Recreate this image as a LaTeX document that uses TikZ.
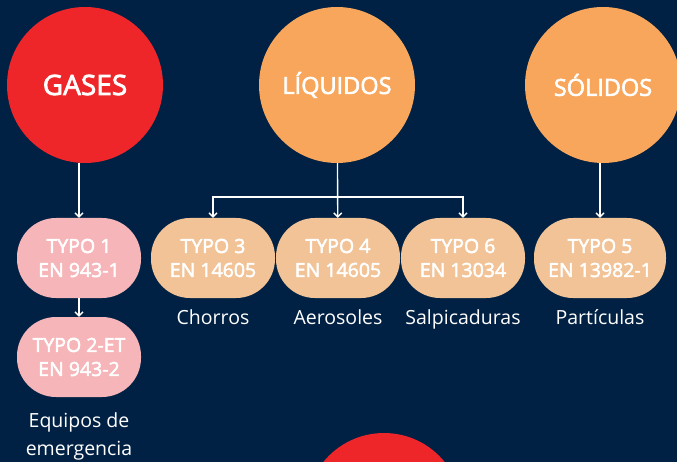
\documentclass[tikz,border=0pt]{standalone}
\usepackage{fontspec}
\setmainfont{Open Sans}
\newfontfamily\semib{Open Sans}[FakeBold=2.6]
\usetikzlibrary{positioning, arrows.meta}
\definecolor{navy}{HTML}{002144}
\definecolor{redc}{HTML}{EE2629}
\definecolor{orangec}{HTML}{F8A65B}
\definecolor{pinkc}{HTML}{F6B5B8}
\definecolor{peachc}{HTML}{F2C396}
\tikzset{%
  bigc/.style   = {circle, minimum size = 156pt, inner sep = 0pt,
    text = white},
  pill/.style   = {rectangle, rounded corners = 39pt, minimum width = 124pt,
    minimum height = 80pt, inner sep = 0pt, align = center, text = white,
    font = \fontsize{19.5}{24}\selectfont\semib},
  lbl/.style    = {text = white, align = center,
    font = \fontsize{19.5}{28}\selectfont},
  conn/.style   = {draw = white, line width = 1.4pt,
    -{Straight Barb[length = 4pt, width = 8pt]}}
}
\begin{document}
\begin{tikzpicture}[x = 1pt, y = -1pt]
\useasboundingbox (0,0) rectangle (677,462);
\fill[navy] (0,0) rectangle (677,462);
\clip (0,0) rectangle (677,462);
% top circles
\draw
	(85,85) node [bigc, fill = redc, font = \fontsize{28}{30}\selectfont\semib] (gases) {GASES}
	(337,85) node [bigc, fill = orangec, font = \fontsize{23.5}{26}\selectfont\semib] (liq) {LÍQUIDOS}
	(603,85) node [bigc, fill = orangec, font = \fontsize{23.5}{26}\selectfont\semib] (sol) {SÓLIDOS}
	(384,511) node [bigc, fill = redc] (extra) {};
% types
\draw
	(79,258) node [pill, fill = pinkc] (t1) {TYPO 1\\EN 943-1}
	(79,357) node [pill, fill = pinkc] (t2) {TYPO 2-ET\\EN 943-2}
	(213,258) node [pill, fill = peachc] (t3) {TYPO 3\\EN 14605}
	(338,258) node [pill, fill = peachc] (t4) {TYPO 4\\EN 14605}
	(463,258) node [pill, fill = peachc] (t6) {TYPO 6\\EN 13034}
	(600,258) node [pill, fill = peachc, minimum width = 132pt] (t5) {TYPO 5\\EN 13982-1};
% labels
\node [lbl, below = 8pt of t3] (chorros) {Chorros};
\node [lbl, below = 8pt of t4] (aero) {Aerosoles};
\node [lbl, below = 8pt of t6] (salp) {Salpicaduras};
\node [lbl, below = 8pt of t5] (part) {Partículas};
\node [lbl, below = 12pt of t2] (equip) {Equipos de\\emergencia};
% arrows
\coordinate (br) at (337,197);
\draw[conn] (t1.north |- gases.south) -- (t1.north);
\draw[conn] (t1) -- (t2);
\draw[conn] (liq) -- (t4);
\draw[conn] (br) -| (t3.north);
\draw[conn] (br) -| (t6.north);
\draw[conn] (sol.south -| t5.north) -- (t5.north);
\end{tikzpicture}
\end{document}
